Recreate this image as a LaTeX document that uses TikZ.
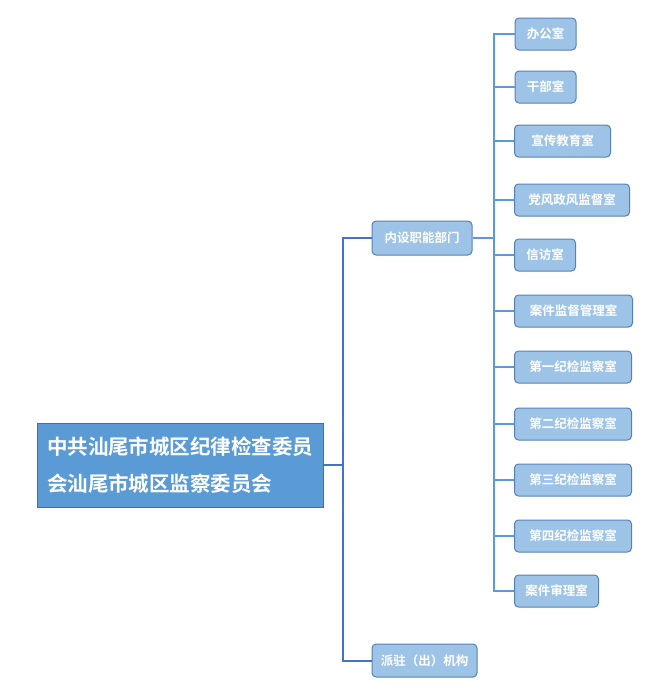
\documentclass[tikz,border=0pt]{standalone}
\usepackage{fontspec}
\setmainfont{Noto Sans CJK SC}[BoldFont={Noto Sans CJK SC Bold}]
\definecolor{rootfill}{RGB}{91,155,213}
\definecolor{rootline}{RGB}{65,113,156}
\definecolor{leaffill}{RGB}{157,195,230}
\definecolor{leafline}{RGB}{88,128,180}
\definecolor{trunkline}{RGB}{68,114,196}
\definecolor{branchline}{RGB}{91,155,213}
\tikzstyle{rootbox}=[rectangle,fill=rootfill,draw=rootline,line width=1pt,minimum width=286pt,minimum height=84pt,
  text width=266pt,align=left,text=white,font=\fontsize{20.5}{37}\selectfont\bfseries]
\tikzstyle{unit}=[rectangle,rounded corners=4pt,fill=leaffill,draw=leafline,line width=1pt,minimum height=32pt,
  inner sep=0pt,text=white,font=\fontsize{12.5}{14}\selectfont\bfseries]
\tikzstyle{leaf}=[unit,anchor=west]
\tikzstyle{trunk}=[draw=trunkline,line width=2pt]
\tikzstyle{branch}=[draw=branchline,line width=1.2pt]

\begin{document}
\begin{tikzpicture}[x=1pt,y=-1pt]
\useasboundingbox (0,0) rectangle (667,697);
\node [rootbox] (root) at (180,465) {中共汕尾市城区纪律检查委员\\会汕尾市城区监察委员会};
\node [unit,minimum width=100pt,minimum height=34pt] (nei) at (422,238) {内设职能部门};
\node [unit,minimum width=105pt,minimum height=33pt] (zhu) at (424.5,660.5) {派驻（出）机构};
% inner departments
\node [leaf,minimum width=61pt] (bgs) at (514.5,34) {办公室};
\node [leaf,minimum width=61pt] (gbs) at (514.5,87) {干部室};
\node [leaf,minimum width=96pt] (xjs) at (514,141) {宣传教育室};
\node [leaf,minimum width=115pt] (dfs) at (514,200) {党风政风监督室};
\node [leaf,minimum width=61pt] (xfs) at (514,255) {信访室};
\node [leaf,minimum width=118pt] (jgs) at (514,311) {案件监督管理室};
\node [leaf,minimum width=117pt] (jj1) at (514,367) {第一纪检监察室};
\node [leaf,minimum width=117pt] (jj2) at (514,424) {第二纪检监察室};
\node [leaf,minimum width=117pt] (jj3) at (514,480) {第三纪检监察室};
\node [leaf,minimum width=117pt] (jj4) at (514,536) {第四纪检监察室};
\node [leaf,minimum width=84pt] (sls) at (514,591) {案件审理室};
\coordinate (stem) at (343,465);
\coordinate (fork) at (494,238);
\draw [trunk] (root.east) -- (stem);
\draw [trunk] (nei.west) -| (stem);
\draw [trunk] (zhu.west) -| (stem);
\draw [branch] (nei.east) -- (fork);
\foreach \n in {bgs,gbs,xjs,dfs,xfs,jgs,jj1,jj2,jj3,jj4,sls}
  \draw [branch] (\n.west) -| (fork);
\end{tikzpicture}
\end{document}
